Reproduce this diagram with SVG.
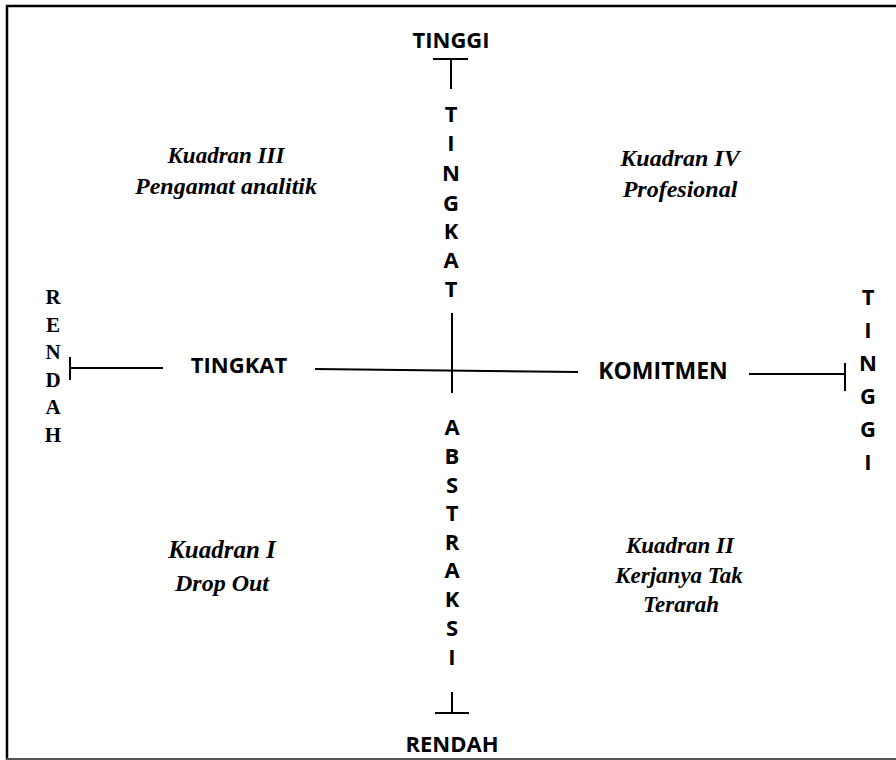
<svg xmlns="http://www.w3.org/2000/svg" width="896" height="760" viewBox="0 0 896 760">
<style>
.ax{font-family:"Open Sans","Noto Sans","DejaVu Sans",sans-serif;font-weight:bold;font-size:22px;fill:#000;text-anchor:middle}
.sv{font-family:"Liberation Serif","Times New Roman",serif;font-weight:bold;font-size:21px;fill:#000;text-anchor:middle}
.q{font-family:"Liberation Serif","Times New Roman",serif;font-weight:bold;font-style:italic;font-size:24px;fill:#000;text-anchor:middle}
.ln{stroke:#000;stroke-width:2;fill:none}
</style>
<rect width="896" height="760" fill="#fff"/>
<g id="frame">
<line x1="6" y1="6" x2="896" y2="6" stroke="#000" stroke-width="2.5"/>
<line x1="7" y1="5" x2="7" y2="760" stroke="#000" stroke-width="2.5"/>
<line x1="6" y1="759" x2="896" y2="759" stroke="#555" stroke-width="2"/>
</g>
<g id="connectors">
<line class="ln" x1="433" y1="59" x2="468" y2="59"/>
<line class="ln" x1="451" y1="59" x2="451" y2="89"/>
<line class="ln" x1="452" y1="313" x2="452" y2="393"/>
<line class="ln" x1="452" y1="692" x2="452" y2="713"/>
<line class="ln" x1="435" y1="713" x2="469" y2="713"/>
<line class="ln" x1="70" y1="357" x2="70" y2="380"/>
<line class="ln" x1="70" y1="368" x2="163" y2="368"/>
<line class="ln" x1="315" y1="369" x2="578" y2="372"/>
<line class="ln" x1="749" y1="374" x2="845" y2="374"/>
<line class="ln" x1="845" y1="363" x2="845" y2="391"/>
</g>
<g id="top-label"><text class="ax" x="451" y="48">TINGGI</text></g>
<g id="bottom-label"><text class="ax" x="452" y="752">RENDAH</text></g>
<g id="left-label">
<text class="sv" x="53" y="304">R</text>
<text class="sv" x="53" y="332">E</text>
<text class="sv" x="53" y="359">N</text>
<text class="sv" x="53" y="387">D</text>
<text class="sv" x="53" y="414">A</text>
<text class="sv" x="53" y="442">H</text>
</g>
<g id="right-label">
<text class="ax" x="868" y="305">T</text>
<text class="ax" x="868" y="338">I</text>
<text class="ax" x="868" y="371">N</text>
<text class="ax" x="868" y="404">G</text>
<text class="ax" x="868" y="437">G</text>
<text class="ax" x="868" y="470">I</text>
</g>
<g id="axis-y-top">
<text class="ax" x="451" y="122">T</text>
<text class="ax" x="451" y="151">I</text>
<text class="ax" x="451" y="181">N</text>
<text class="ax" x="451" y="211">G</text>
<text class="ax" x="451" y="239">K</text>
<text class="ax" x="451" y="268">A</text>
<text class="ax" x="451" y="297">T</text>
</g>
<g id="axis-y-bottom">
<text class="ax" x="452" y="435">A</text>
<text class="ax" x="452" y="464">B</text>
<text class="ax" x="452" y="493">S</text>
<text class="ax" x="452" y="521">T</text>
<text class="ax" x="452" y="550">R</text>
<text class="ax" x="452" y="578">A</text>
<text class="ax" x="452" y="607">K</text>
<text class="ax" x="452" y="636">S</text>
<text class="ax" x="452" y="665">I</text>
</g>
<g id="axis-x-left"><text class="ax" x="239" y="373">TINGKAT</text></g>
<g id="axis-x-right"><text class="ax" x="663" y="379" style="font-size:23px">KOMITMEN</text></g>
<g id="kuadran-3">
<text class="q" x="226" y="163" style="font-size:23px">Kuadran III</text>
<text class="q" x="226" y="194">Pengamat analitik</text>
</g>
<g id="kuadran-4">
<text class="q" x="680" y="166">Kuadran IV</text>
<text class="q" x="680" y="197">Profesional</text>
</g>
<g id="kuadran-1">
<text class="q" x="222" y="558" style="font-size:25px">Kuadran I</text>
<text class="q" x="222" y="591">Drop Out</text>
</g>
<g id="kuadran-2">
<text class="q" x="680" y="553" style="font-size:23px">Kuadran II</text>
<text class="q" x="679" y="583" style="font-size:23px">Kerjanya Tak</text>
<text class="q" x="681" y="612" style="font-size:23px">Terarah</text>
</g>
</svg>
